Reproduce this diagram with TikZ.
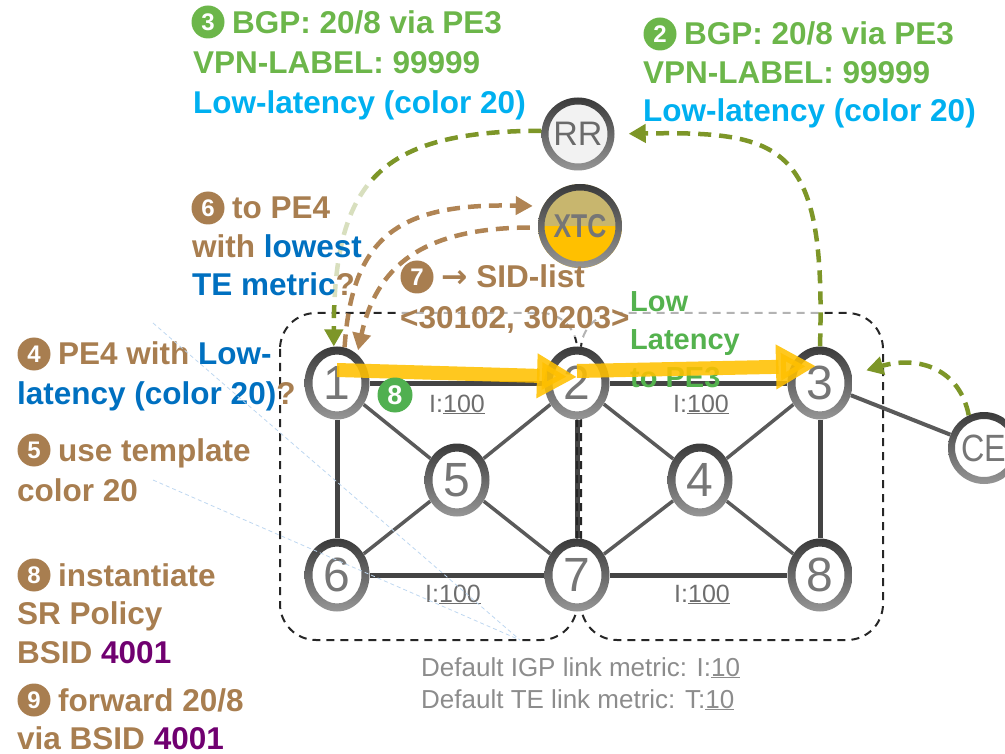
\documentclass[tikz,border=0pt]{standalone}
\usepackage{fontspec}
\usepackage{graphicx}
\setmainfont{Liberation Sans}
\newfontfamily\dejavu{DejaVu Sans}
\usetikzlibrary{shapes.geometric,arrows.meta}
\definecolor{tgreen}{RGB}{108,182,74}
\definecolor{lgreen}{RGB}{84,178,78}
\definecolor{gcirc}{RGB}{80,176,80}
\definecolor{tcyan}{RGB}{0,176,240}
\definecolor{tblue}{RGB}{0,112,192}
\definecolor{tbrown}{RGB}{168,126,80}
\definecolor{tpurple}{RGB}{112,0,112}
\definecolor{olivea}{RGB}{125,150,40}
\definecolor{browna}{RGB}{176,132,84}
\definecolor{yel}{RGB}{255,192,0}
\definecolor{ringtop}{RGB}{58,58,58}
\definecolor{ringbot}{RGB}{150,150,150}
\definecolor{numgray}{RGB}{118,118,118}
\definecolor{linkc}{RGB}{68,68,68}
\definecolor{diagc}{RGB}{90,90,90}
\definecolor{lblgray}{RGB}{110,110,110}
\definecolor{dgray}{RGB}{140,140,140}
\definecolor{rrfill}{RGB}{242,242,242}
\definecolor{xtctop}{RGB}{200,182,110}
\definecolor{faintb}{RGB}{190,215,240}
\pgfdeclarelayer{bg}
\pgfsetlayers{bg,main}
\newcommand{\annf}{\fontsize{31.5}{37}\selectfont\bfseries}
\newcommand{\ringof}[5]{\shade[top color=ringtop,bottom color=ringbot,even odd rule] (#1.center) ellipse[x radius=#2pt,y radius=#3pt] (#1.center) ellipse[x radius=#4pt,y radius=#5pt];}
\begin{document}
\begin{tikzpicture}[x=1pt,y=-1pt,
  net/.style={ellipse,minimum width=65pt,minimum height=73pt,inner sep=0pt,fill=white,text=numgray,font=\fontsize{48}{48}\selectfont},
  lk/.style={draw=linkc,line width=5pt},
  dg/.style={draw=diagc,line width=3.5pt},
  dom/.style={draw=black!85,line width=2pt,dash pattern=on 8pt off 6pt,rounded corners=36pt},
  oarr/.style={draw=olivea,line width=4.5pt,dash pattern=on 13pt off 8pt,-{Triangle[length=17pt,width=18pt]}},
  barr/.style={draw=browna,line width=4.5pt,dash pattern=on 13pt off 8pt,-{Triangle[length=17pt,width=18pt]}},
  yarr/.style={draw=yel,line width=14pt,opacity=0.88,-{Triangle[length=40pt,width=42pt]}},
  cnum/.style={circle,fill=#1,text=white,minimum size=33pt,inner sep=0pt,font=\fontsize{24}{24}\selectfont\bfseries},
  tl/.style={anchor=base west,inner sep=0pt,font=\annf},
  lbl/.style={anchor=base,inner sep=0pt,text=lblgray,font=\fontsize{25}{25}\selectfont},
  faint/.style={draw=faintb,line width=0.8pt,dash pattern=on 4pt off 3pt},
]
\useasboundingbox (0,0) rectangle (1005,754);

% network nodes
\node[net] (n1) at (337,383) {1};
\node[net] (n2) at (577,383) {2};
\node[net] (n3) at (820,383) {3};
\node[net] (n5) at (457,480) {5};
\node[net] (n4) at (700,480) {4};
\node[net] (n6) at (337,575) {6};
\node[net] (n7) at (577,575) {7};
\node[net] (n8) at (820,575) {8};
\node[circle,minimum size=72pt,inner sep=0pt,fill=white,text=numgray,font=\fontsize{38}{38}\selectfont] (CE) at (984,448) {\scalebox{0.85}[1]{CE}};
\node[circle,minimum size=73pt,inner sep=0pt,fill=rrfill,text=numgray!90!black,font=\fontsize{34}{34}\selectfont] (RR) at (578,134) {RR};
\node[circle,minimum size=84pt,inner sep=0pt,text=numgray,font=\fontsize{33}{33}\selectfont\bfseries,
  path picture={\fill[xtctop] (path picture bounding box.north west) rectangle (path picture bounding box.east);
                \fill[yel] (path picture bounding box.west) rectangle (path picture bounding box.south east);}] (XTC) at (580,226) {\scalebox{0.8}[1]{XTC}};

\foreach \n in {n1,n2,n3,n4,n5,n6,n7,n8}{\ringof{\n}{32.5}{36.5}{24.5}{28.5}}
\ringof{RR}{36.5}{36.5}{29.5}{29.5}
\ringof{XTC}{42}{42}{35.5}{35.5}
\ringof{CE}{36}{36}{29}{29}

% links and domains
\begin{pgfonlayer}{bg}
\draw[lk] (n1) -- (n2);
\draw[lk] (n2) -- (n3);
\draw[lk] (n6) -- (n7);
\draw[lk] (n7) -- (n8);
\draw[lk] (n1) -- (n6);
\draw[lk] (n3) -- (n8);
\draw[lk] (n2) -- (n7);
\draw[dg] (n1) -- (n5);
\draw[dg] (n5) -- (n2);
\draw[dg] (n5) -- (n6);
\draw[dg] (n5) -- (n7);
\draw[dg] (n2) -- (n4);
\draw[dg] (n4) -- (n3);
\draw[dg] (n4) -- (n7);
\draw[dg] (n4) -- (n8);
\draw[dg,line width=4pt] (n3) -- (CE);
\draw[dom] (280,313) rectangle (577,640);
\draw[dom] (581,313) rectangle (883,640);
\end{pgfonlayer}

% link labels
\node[lbl] (l12) at (457,412) {I:\underline{100}};
\node[lbl] (l23) at (701,412) {I:\underline{100}};
\node[lbl] (l67) at (453,602) {I:\underline{100}};
\node[lbl] (l78) at (702,602) {I:\underline{100}};

% bottom note
\node[anchor=base west,inner sep=0pt,font=\fontsize{26}{26}\selectfont,text=dgray] (d1) at (421,676) {Default IGP link metric: I:\underline{10}};
\node[anchor=base west,inner sep=0pt,font=\fontsize{26}{26}\selectfont,text=dgray] (d2) at (421,708) {Default TE link metric: T:\underline{10}};

% RR -> PE1 (partly faded by the text box of step 6)
\draw[oarr] (RR.175) to[out=180,in=90,looseness=1.4] (n1.95);
\fill[white,opacity=0.7] (186,180) rectangle (372,302);
\fill[white,opacity=0.65] (398,293) rectangle (820,337);

% top-left text (3)
\node[cnum=tgreen] (c3) at (208,22) {3};
\node[tl,text=tgreen] (a3a) at (232,34) {BGP: 20/8 via PE3};
\node[tl,text=tgreen] (a3b) at (193,74) {VPN-LABEL: 99999};
\node[tl,text=tcyan] (a3c) at (193,114) {Low-latency (color 20)};

% top-right text (2)
\node[cnum=tgreen] (c2) at (660,34) {2};
\node[tl,text=tgreen] (a2a) at (684,45) {BGP: 20/8 via PE3};
\node[tl,text=tgreen] (a2b) at (643,84) {VPN-LABEL: 99999};
\node[tl,text=tcyan] (a2c) at (643,122) {Low-latency (color 20)};

% step 6
\node[cnum=tbrown] (c6) at (208,208) {6};
\node[tl,text=tbrown] (a6a) at (232,219) {to PE4};
\node[tl,text=tbrown] (a6b) at (192,258) {with \textcolor{tblue}{lowest}};
\node[tl,text=tblue] (a6c) at (192,296) {TE metric\textcolor{tbrown}{?}};

% step 7
\node[cnum=tbrown] (c7) at (417,277) {7};
\node[tl,text=tbrown] (a7a) at (441,288) {{\dejavu\bfseries →} SID-list};
\node[tl,text=tbrown] (a7b) at (400,329) {<30102, 30203>};

% low latency
\node[tl,text=lgreen,font=\fontsize{29}{29}\selectfont\bfseries] (ll1) at (630,312) {Low};
\node[tl,text=lgreen,font=\fontsize{29}{29}\selectfont\bfseries] (ll2) at (630,350) {Latency};
\node[tl,text=lgreen,font=\fontsize{29}{29}\selectfont\bfseries] (ll3) at (630,388) {to PE3};

% left column
\node[cnum=tbrown] (c4) at (34,354) {4};
\node[tl,text=tbrown] (a4a) at (58,365) {PE4 with \textcolor{tblue}{Low-}};
\node[tl,text=tblue] (a4b) at (17,404) {latency (color 20)\textcolor{tbrown}{?}};
\node[cnum=tbrown] (c5) at (34,450) {5};
\node[tl,text=tbrown] (a5a) at (58,461) {use template};
\node[tl,text=tbrown] (a5b) at (17,501) {color 20};
\node[cnum=tbrown] (c8) at (34,575) {8};
\node[tl,text=tbrown] (a8a) at (58,586) {instantiate};
\node[tl,text=tbrown] (a8b) at (17,624) {SR Policy};
\node[tl,text=tbrown] (a8c) at (17,663) {BSID \textcolor{tpurple}{4001}};
\node[cnum=tbrown] (c9) at (34,700) {9};
\node[tl,text=tbrown] (a9a) at (58,711) {forward 20/8};
\node[tl,text=tbrown] (a9b) at (17,749) {via BSID \textcolor{tpurple}{4001}};

% arrows
\draw[barr,shorten >=10pt] (n1.78) .. controls (352,235) and (400,203) .. (XTC.152);
\draw[barr,shorten <=8pt,shorten >=4pt] (XTC.182) .. controls (420,228) and (376,268) .. (n1.55);
\draw[oarr,shorten >=14pt] (n3.north) .. controls (826,145) and (785,131) .. (RR.east);
\draw[oarr,shorten >=15pt] (CE.115) .. controls (960,370) and (920,355) .. (n3.15);
\draw[yarr] ([yshift=13pt]n1.center) -- ([yshift=6pt]n2.center);
\draw[yarr,shorten >=4pt] ([yshift=12pt]n2.center) -- ([yshift=17pt]n3.center);

\node[circle,fill=gcirc,text=white,minimum size=35pt,inner sep=0pt,font=\fontsize{27}{27}\selectfont\bfseries] (g8) at (395,395) {8};

% faint leader lines
\coordinate (f0) at (520,640);
\coordinate (f1) at (153,323);
\coordinate (f2) at (153,480);
\draw[faint] (f1) -- (f0);
\draw[faint] (f2) -- (f0);
\end{tikzpicture}
\end{document}
